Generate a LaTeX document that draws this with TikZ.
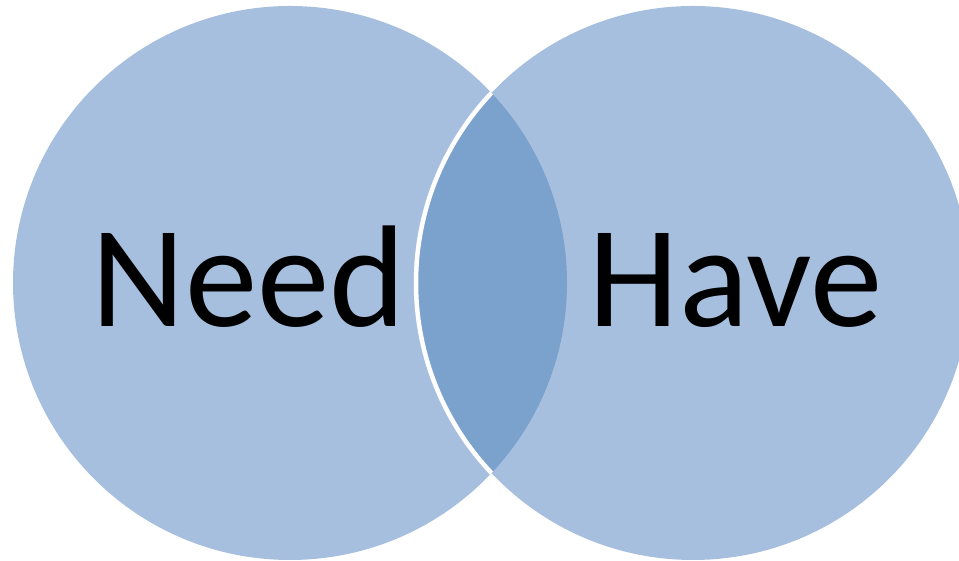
\documentclass[tikz,border=0pt]{standalone}
\usepackage{fontspec}
\setmainfont{Carlito}
\definecolor{setlight}{RGB}{167,191,222}
\definecolor{setdark}{RGB}{123,161,205}
\tikzset{
  setlabel/.style={anchor=base,inner sep=0pt,font=\fontsize{145}{145}\selectfont}
}
\begin{document}
\begin{tikzpicture}[x=1pt,y=1pt]

\useasboundingbox (0,0) rectangle (959,561);
\clip (0,0) rectangle (959,561);

\coordinate (L) at (290,278);
\coordinate (R) at (693,278);

\fill[setlight] (L) circle[radius=277];
\fill[setlight] (R) circle[radius=277];

\begin{scope}
\clip (L) circle[radius=277];
\fill[setdark] (R) circle[radius=277];
\end{scope}

\begin{scope}
\clip (L) circle[radius=277];
\draw[white,line width=4.5] (R) circle[radius=277];
\end{scope}

\node[setlabel]
(N)
at (248.5,234)
{Need};

\node[setlabel]
(H)
at (735.5,234)
{Have};

\end{tikzpicture}
\end{document}
